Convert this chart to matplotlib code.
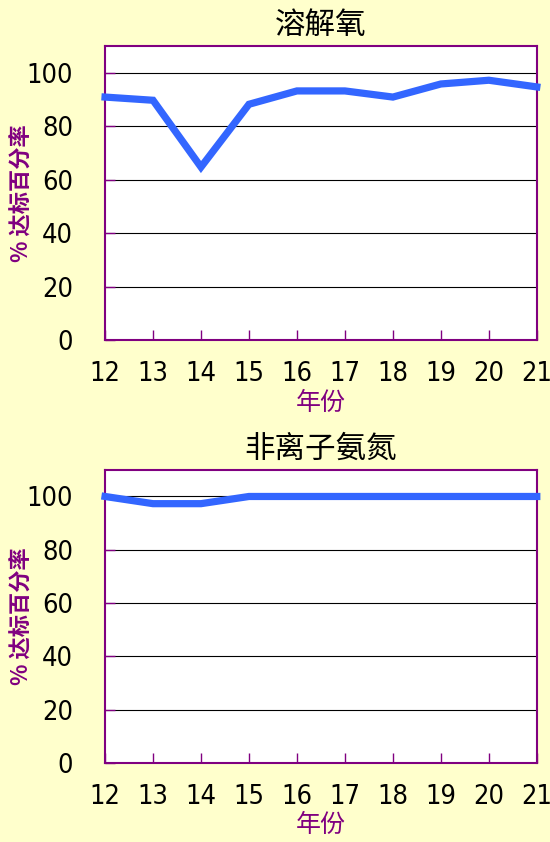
import matplotlib
matplotlib.use('Agg')
import matplotlib.pyplot as plt
from matplotlib import font_manager

years = [12, 13, 14, 15, 16, 17, 18, 19, 20, 21]
do_rate = [91, 89.8, 64.8, 88.3, 93.3, 93.3, 91, 95.9, 97.3, 94.8]
nh3_rate = [100, 97.3, 97.3, 100, 100, 100, 100, 100, 100, 100]
titles = ['溶解氧', '非离子氨氮']
yticks = [0, 20, 40, 60, 80, 100]

cjk = ['Noto Sans CJK SC', 'DejaVu Sans']

# look for a narrow font for the numbers, else fall back
num_font = None
for f in font_manager.fontManager.ttflist:
  fn = f.fname.lower()
  if ('condensed' in fn or 'narrow' in fn) and 'bold' not in fn and 'oblique' not in fn and 'italic' not in fn:
    num_font = font_manager.FontProperties(fname=f.fname)
    break
num_size = 19.5
if num_font is None:
  num_font = font_manager.FontProperties(family='DejaVu Sans')
  num_size = 15

bg = '#FFFFCC'
purple = '#800080'
line_col = '#3366FF'

fig = plt.figure(figsize=(5.5, 8.42), dpi=100, facecolor=bg)

def draw(ax, vals, title):
  ax.set_facecolor('white')
  ax.plot(years, vals, color=line_col, lw=5.2, solid_joinstyle='miter', zorder=3, clip_on=False)
  ax.set_xlim(12, 21)
  ax.set_ylim(0, 110)
  ax.set_yticks(yticks)
  ax.set_xticks(years)
  for y in yticks[1:]:
    ax.axhline(y, color='black', lw=0.8, zorder=1)
  for s in ax.spines.values():
    s.set_color(purple)
    s.set_linewidth(1.5)
  ax.tick_params(axis='both', direction='in', length=7, width=1, color=purple, colors='black')
  ax.tick_params(axis='y', pad=23)
  ax.tick_params(axis='x', pad=15)
  for lbl in ax.get_xticklabels() + ax.get_yticklabels():
    lbl.set_fontproperties(num_font)
    lbl.set_fontsize(num_size)
  ax.set_title(title, family=cjk, fontsize=22, pad=9)
  ax.set_xlabel('年份', family=cjk, fontsize=18, color=purple, labelpad=2)
  ax.set_ylabel('% 达标百分率', family=cjk, fontsize=16, color=purple, fontweight='bold')
  ax.yaxis.set_label_coords(-0.167, 0.5)

ax1 = fig.add_axes([0.191, 0.596, 0.785, 0.349])
draw(ax1, do_rate, titles[0])
ax2 = fig.add_axes([0.191, 0.094, 0.785, 0.348])
draw(ax2, nh3_rate, titles[1])

fig.savefig('out.png', dpi=100, facecolor=bg)
